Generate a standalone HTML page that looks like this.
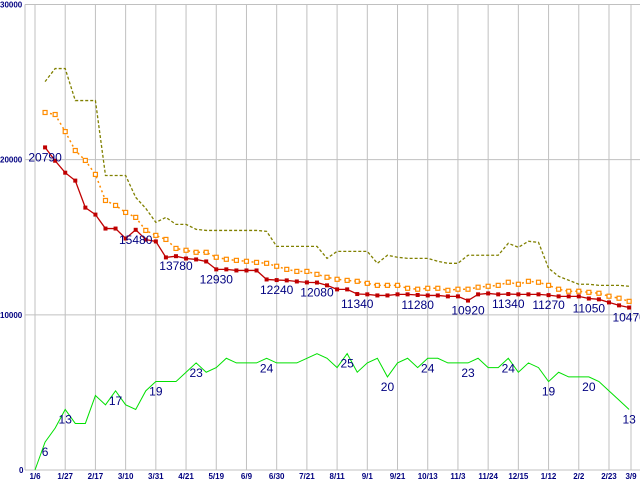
<!DOCTYPE html>
<html><head><meta charset="utf-8"><style>
body{margin:0;background:#fff;}
svg{display:block;font-family:"Liberation Sans",sans-serif;}
</style></head><body>
<svg id="chart" width="640" height="480" viewBox="0 0 640 480" xmlns="http://www.w3.org/2000/svg"></svg>
<script>
const xLabels=["1/6","1/27","2/17","3/10","3/31","4/21","5/19","6/9","6/30","7/21","8/11","9/1","9/21","10/13","11/3","11/24","12/15","1/12","2/2","2/23","3/9"];
const yTicks=[0,10000,20000,30000];
const redVals=[20790,19930,19160,18650,16910,16460,15560,15560,14920,15480,14850,14730,13700,13780,13630,13570,13440,12930,12930,12860,12860,12860,12280,12240,12220,12150,12090,12080,11900,11640,11640,11340,11320,11250,11250,11320,11320,11280,11250,11250,11190,11190,10920,11320,11380,11320,11340,11320,11320,11320,11270,11190,11190,11190,11050,11000,10800,10610,10470];
const redLabelIdx=[0,9,13,17,23,27,31,37,42,46,50,54,58];
const orangeVals=[23040,22910,21810,20590,19950,19050,17370,17050,16600,16280,15440,15120,14860,14280,14160,14030,14030,13710,13580,13510,13450,13380,13320,13130,12930,12800,12800,12610,12420,12290,12220,12160,12030,11900,11900,11900,11710,11650,11710,11710,11580,11650,11650,11780,11840,11900,12100,11970,12160,12100,11900,11650,11520,11520,11450,11390,11200,11070,10870];
const oliveVals=[25030,25870,25870,23810,23810,23810,18980,18980,18980,17570,16860,15960,16280,15830,15830,15510,15440,15440,15440,15440,15440,15440,15380,14410,14410,14410,14410,14410,13640,14090,14090,14090,14090,13320,13840,13710,13640,13640,13640,13450,13320,13320,13840,13840,13840,13840,14610,14350,14740,14670,13000,12480,12230,11970,11970,11900,11900,11900,11840];
const greenVals=[0,6,9,13,10,10,16,14,17,14,13,17,19,19,19,21,23,21,22,24,23,23,23,24,23,23,23,24,25,24,22,25,21,23,24,20,23,24,22,24,24,23,23,23,24,22,22,24,21,23,22,19,21,20,20,20,19,17,15,13];
const greenLabelIdx=[1,3,8,12,16,23,31,35,39,43,47,51,55,59];

const svg=document.getElementById('chart');
const NS='http://www.w3.org/2000/svg';
const X0=35,STEP=10.07,Y0=470,YTOP=4.5;
function xw(i){return X0+i*STEP;}
function yv(v){return Y0-(v/30000)*(Y0-YTOP);}
function yg(v){return Y0-(v/100)*(Y0-YTOP);}
function mk(tag,attrs,parent){const e=document.createElementNS(NS,tag);for(const k in attrs)e.setAttribute(k,attrs[k]);(parent||svg).appendChild(e);return e;}

const grid=mk('g',{});


yTicks.forEach(t=>{
  const l=mk('line',{x1:25,x2:640,y1:yv(t),y2:yv(t),stroke:'#c0c0c0','stroke-width':1},grid);
  
  
  const tx=mk('text',{x:t===0?19:0,y:yv(t)+3,'font-size':8,'font-weight':'bold',fill:'#000080'},grid);
  tx.textContent=t;
  
  
});
const ax=mk('line',{x1:25,x2:25,y1:YTOP,y2:Y0,stroke:'#c0c0c0','stroke-width':1},grid);


xLabels.forEach((lab,k)=>{
  const x=k<xLabels.length-1?xw(k*3):631;
  const l=mk('line',{x1:x,x2:x,y1:YTOP,y2:Y0,stroke:'#c0c0c0','stroke-width':1},grid);
  
  
  const tx=mk('text',{x:x,y:479,'font-size':8,'font-weight':'bold',fill:'#000080','text-anchor':'middle'},grid);
  tx.textContent=lab;
  
  
});

function poly(vals,fx,fy,attrs,name){
  const p=mk('polyline',Object.assign({points:vals.map((v,i)=>fx(i)+','+fy(v)).join(' '),fill:'none'},attrs));
  
  
}
poly(oliveVals,i=>xw(i+1),yv,{stroke:'#808000','stroke-width':1.3,'stroke-dasharray':'3,2'},'olive-series-line');
poly(orangeVals,i=>xw(i+1),yv,{stroke:'#ff8c00','stroke-width':1.5,'stroke-dasharray':'2,3'},'orange-series-line');
orangeVals.forEach((v,i)=>{
  const r=mk('rect',{x:xw(i+1)-2,y:yv(v)-2,width:4,height:4,fill:'#fff',stroke:'#ff8c00','stroke-width':1.2});
  
  
});
poly(redVals,i=>xw(i+1),yv,{stroke:'#c00000','stroke-width':1.3},'red-series-line');
redVals.forEach((v,i)=>{
  const r=mk('rect',{x:xw(i+1)-2,y:yv(v)-2,width:4,height:4,fill:'#c00000'});
  
  
});
poly(greenVals,i=>xw(i),yg,{stroke:'#00e000','stroke-width':1},'green-series-line');

redLabelIdx.forEach(i=>{
  const t=mk('text',{x:xw(i+1),y:yv(redVals[i])+14,'font-size':12,fill:'#000080','text-anchor':'middle'});
  t.textContent=redVals[i];
  
  
});
greenLabelIdx.forEach(i=>{
  const t=mk('text',{x:xw(i),y:yg(greenVals[i])+14,'font-size':12,fill:'#000080','text-anchor':'middle'});
  t.textContent=greenVals[i];
  
  
});
</script>
</body></html>
